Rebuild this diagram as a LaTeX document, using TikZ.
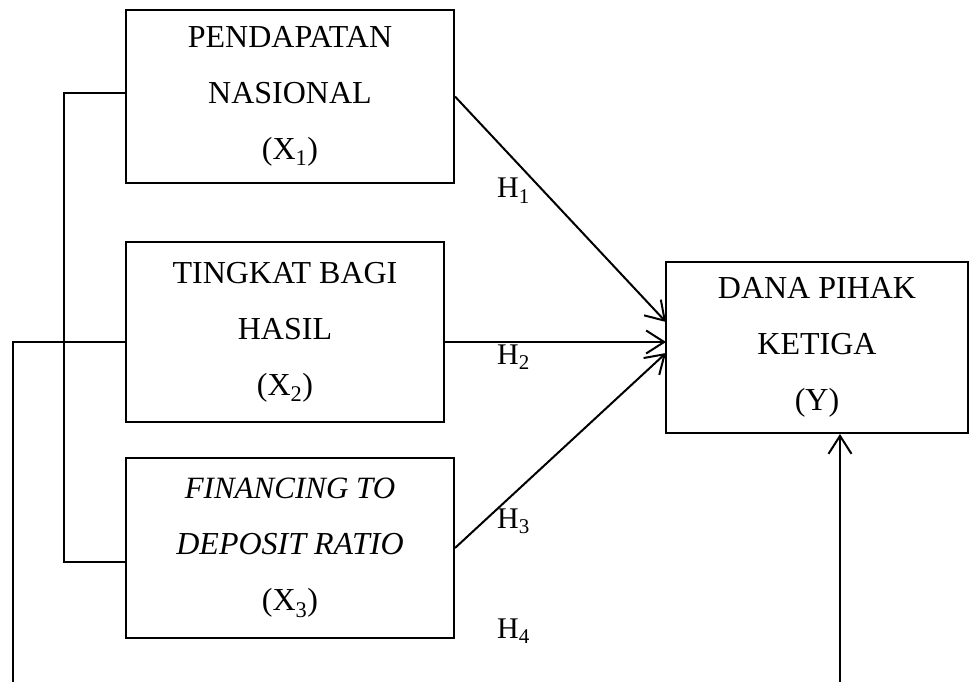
\documentclass[tikz,border=0pt]{standalone}
\usepackage{fontspec}
\setmainfont{Liberation Serif}
\usetikzlibrary{arrows.meta,calc}
\begin{document}
\begin{tikzpicture}[x=1pt,y=-1pt,
  box/.style={draw,line width=2pt,align=center,font=\fontsize{32}{56}\selectfont,inner sep=0pt},
  conn/.style={line width=2pt},
  arr/.style={line width=2pt,-{Straight Barb[length=18pt,width=23pt,line width=2pt]}},
  hlab/.style={anchor=base west,inner sep=0pt,font=\fontsize{30}{36}\selectfont}]
\useasboundingbox (0,0) rectangle (970,682);
\node[box,minimum width=328pt,minimum height=173pt] (x1) at (290,96.5) {PENDAPATAN\\NASIONAL\\(X\textsubscript{1})};
\node[box,minimum width=318pt,minimum height=180pt] (x2) at (285,332) {TINGKAT BAGI\\HASIL\\(X\textsubscript{2})};
\node[box,minimum width=328pt,minimum height=180pt] (x3) at (290,548) {\fontsize{31}{57}\selectfont\itshape FINANCING TO\\\itshape DEPOSIT RATIO\\\upshape (X\textsubscript{3})};
\node[box,minimum width=302pt,minimum height=171pt] (y) at (817,347.5) {DANA PIHAK\\KETIGA\\(Y)};
\coordinate (t1) at (666,322);
\coordinate (t2) at (666,342);
\coordinate (t3) at (666,353);
\draw[arr] (x1.east) -- (t1);
\draw[arr] (x2.east |- t2) -- (t2);
\draw[arr] (x3.east) -- (t3);
\coordinate (la) at (64,93);
\coordinate (lb) at (64,562);
\draw[conn] (x1.west |- la) -- (la) -- (lb) -- (x3.west |- lb);
\coordinate (lc) at (13,342);
\coordinate (ld) at (13,682);
\draw[conn] (x2.west |- lc) -- (lc) -- (ld);
\coordinate (re) at (840,682);
\draw[arr] (re) -- (y.south -| re);
\node[hlab] (h1) at (497,198) {H\textsubscript{1}};
\node[hlab] (h2) at (497,364) {H\textsubscript{2}};
\node[hlab] (h3) at (497,528) {H\textsubscript{3}};
\node[hlab] (h4) at (497,638) {H\textsubscript{4}};
\end{tikzpicture}
\end{document}
